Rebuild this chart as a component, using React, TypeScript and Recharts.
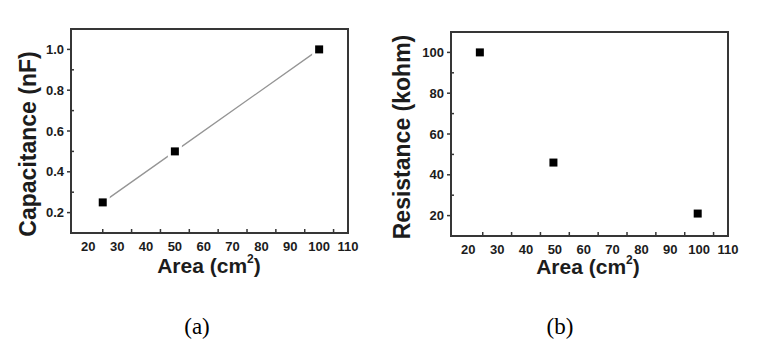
import React from 'react';
import { ComposedChart, ScatterChart, Line, Scatter, XAxis, YAxis, ReferenceArea, Label } from 'recharts';

// ---- data ----
const areaLabelTicks = [20, 30, 40, 50, 60, 70, 80, 90, 100, 110];
const areaMinorTicks = [25, 35, 45, 55, 65, 75, 85, 95, 105];

const capArea = [25, 50, 100];
const capValues = [0.25, 0.5, 1.0];
const capLabelTicks = [0.2, 0.4, 0.6, 0.8, 1.0];
const capMinorTicks = [0.3, 0.5, 0.7, 0.9];

const resArea = [24, 49.5, 99.5];
const resValues = [100, 46, 21];
const resLabelTicks = [20, 40, 60, 80, 100];
const resMinorTicks = [30, 50, 70, 90];

const captions = ['(a)', '(b)'];

const capData = capArea.map((x, i) => ({ x, y: capValues[i] }));
const resData = resArea.map((x, i) => ({ x, y: resValues[i] }));

const FONT = '"Liberation Sans", Arial, sans-serif';
const INK = '#1c1c1c';
const FRAME = '#363636';

const near = (a: number, b: number) => Math.abs(a - b) < 1e-6;

const makeXTick = (labels: number[]) => (props: any) => {
  const { x, y, payload } = props;
  const v = payload.value;
  if (labels.some((l) => near(l, v))) {
    return (
      <text x={x} y={y + 13} textAnchor="middle" dominantBaseline="central" fontFamily={FONT} fontWeight="bold" fontSize={13} fill={INK}>
        {v}
      </text>
    );
  }
  return <line x1={x} x2={x} y1={y} y2={y - 4} stroke={FRAME} strokeWidth={1.5} />;
};

const makeYTick = (labels: number[], fmt: (v: number) => string) => (props: any) => {
  const { x, y, payload } = props;
  const v = payload.value;
  if (labels.some((l) => near(l, v))) {
    return (
      <g>
        <line x1={x - 4} x2={x} y1={y} y2={y} stroke={FRAME} strokeWidth={1.5} />
        <text x={x - 7} y={y} textAnchor="end" dominantBaseline="central" fontFamily={FONT} fontWeight="bold" fontSize={13} fill={INK}>
          {fmt(v)}
        </text>
      </g>
    );
  }
  return <line x1={x} x2={x + 3} y1={y} y2={y} stroke={FRAME} strokeWidth={1.5} />;
};

const SquareDot = (props: any) => {
  const { cx, cy } = props;
  if (cx == null || cy == null) return null;
  return <rect x={cx - 4} y={cy - 4} width={8} height={8} fill="#000" stroke="#fff" strokeWidth={6} style={{ paintOrder: 'stroke' }} />;
};

const SquarePlain = (props: any) => {
  const { cx, cy } = props;
  if (cx == null || cy == null) return null;
  return <rect x={cx - 4} y={cy - 4} width={8} height={8} fill="#000" />;
};

const XTitle = ({ cx, baseline }: { cx: number; baseline: number }) => (
  <text x={cx} y={baseline} textAnchor="middle" fontFamily={FONT} fontWeight="bold" fontSize={21} fill={INK}>
    <tspan>Area (cm</tspan>
    <tspan fontSize={12} dy={-10.5}>2</tspan>
    <tspan dy={10.5}>)</tspan>
  </text>
);

const YTitle = ({ cx, cy, text }: { cx: number; cy: number; text: string }) => (
  <text transform={`translate(${cx},${cy}) rotate(-90)`} textAnchor="middle" dominantBaseline="central" fontFamily={FONT} fontWeight="bold" fontSize={23} fill={INK}>
    {text}
  </text>
);

const mergeTicks = (a: number[], b: number[]) => [...a, ...b].sort((p, q) => p - q);

const captionStyle: React.CSSProperties = {
  position: 'absolute',
  top: 312,
  width: 60,
  textAlign: 'center',
  fontFamily: '"Liberation Serif", "Times New Roman", serif',
  fontSize: 23,
  lineHeight: '30px',
  color: '#000',
};

export default function App() {
  return (
    <div style={{ position: 'absolute', left: 0, top: 0, width: 758, height: 352, background: '#fff' }}>
      <div style={{ position: 'absolute', left: 0, top: 0 }}>
        <ComposedChart width={380} height={300} data={capData} margin={{ top: 29, right: 32, bottom: 0, left: 0 }}>
          <XAxis
            type="number"
            dataKey="x"
            domain={[14, 110]}
            ticks={mergeTicks(areaLabelTicks, areaMinorTicks)}
            interval={0}
            height={67}
            tickSize={0}
            tickMargin={0}
            axisLine={false}
            tickLine={false}
            tick={makeXTick(areaLabelTicks)}
          >
            <Label content={() => <XTitle cx={209} baseline={273} />} />
          </XAxis>
          <YAxis
            type="number"
            dataKey="y"
            domain={[0.1, 1.1]}
            ticks={mergeTicks(capLabelTicks, capMinorTicks)}
            interval={0}
            width={71}
            tickSize={0}
            tickMargin={0}
            axisLine={false}
            tickLine={false}
            tick={makeYTick(capLabelTicks, (v) => v.toFixed(1))}
          >
            <Label content={() => <YTitle cx={28} cy={144} text="Capacitance (nF)" />} />
          </YAxis>
          <ReferenceArea x1={14} x2={110} y1={0.1} y2={1.1} fill="none" stroke={FRAME} strokeWidth={2} ifOverflow="visible" />
          <Line type="linear" dataKey="y" stroke="#959595" strokeWidth={1.3} dot={<SquareDot />} activeDot={false} isAnimationActive={false} />
        </ComposedChart>
      </div>
      <div style={{ position: 'absolute', left: 380, top: 0 }}>
        <ScatterChart width={378} height={300} margin={{ top: 32, right: 30, bottom: 0, left: 0 }}>
          <XAxis
            type="number"
            dataKey="x"
            domain={[14, 110]}
            ticks={mergeTicks(areaLabelTicks, areaMinorTicks)}
            interval={0}
            height={64}
            tickSize={0}
            tickMargin={0}
            axisLine={false}
            tickLine={false}
            tick={makeXTick(areaLabelTicks)}
          >
            <Label content={() => <XTitle cx={208} baseline={274} />} />
          </XAxis>
          <YAxis
            type="number"
            dataKey="y"
            domain={[10, 110]}
            ticks={mergeTicks(resLabelTicks, resMinorTicks)}
            interval={0}
            width={71}
            tickSize={0}
            tickMargin={0}
            axisLine={false}
            tickLine={false}
            tick={makeYTick(resLabelTicks, (v) => String(v))}
          >
            <Label content={() => <YTitle cx={22} cy={137} text="Resistance (kohm)" />} />
          </YAxis>
          <ReferenceArea x1={14} x2={110} y1={10} y2={110} fill="none" stroke={FRAME} strokeWidth={2} ifOverflow="visible" />
          <Scatter data={resData} shape={<SquarePlain />} isAnimationActive={false} />
        </ScatterChart>
      </div>
      <div style={{ ...captionStyle, left: 167 }}>{captions[0]}</div>
      <div style={{ ...captionStyle, left: 530 }}>{captions[1]}</div>
    </div>
  );
}
